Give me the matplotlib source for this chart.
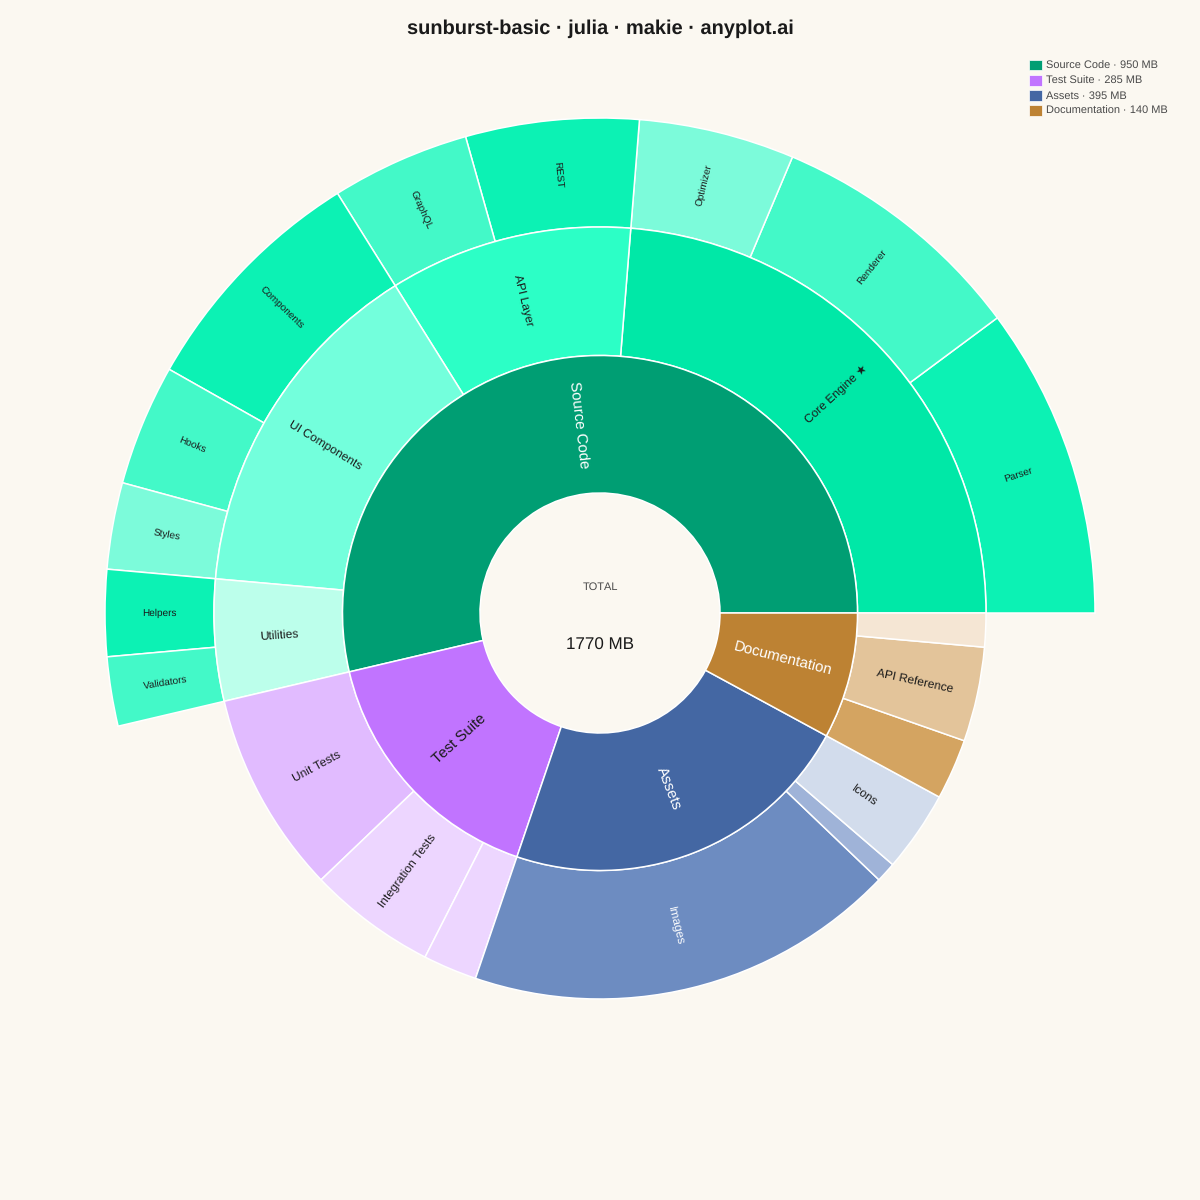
import matplotlib
matplotlib.use("Agg")
import matplotlib.pyplot as plt
from matplotlib.patches import Wedge, Patch
from matplotlib.transforms import Affine2D

BG = "#FBF8F1"
DARK = "#1A1A1A"
plt.rcParams["font.family"] = ["Liberation Sans", "DejaVu Sans"]
plt.rcParams["text.hinting"] = "no_hinting"
plt.rcParams["text.hinting_factor"] = 1

# Level 1
top_names = ["Source Code", "Test Suite", "Assets", "Documentation"]
top_values = [950, 285, 395, 140]
top_colors = ["#009E73", "#C174FF", "#4467A3", "#BD8233"]
top_text = ["white", DARK, "white", "white"]

# Level 2
mid_names = ["Core Engine ★", "API Layer", "UI Components", "Utilities",
             "Unit Tests", "Integration Tests", "",
             "Images", "", "Icons",
             "", "API Reference", ""]
mid_values = [420, 180, 260, 90,
              150, 95, 40,
              320, 15, 60,
              45, 70, 25]
mid_colors = ["#00E8A7", "#2CFFC6", "#73FFDC", "#BCFFEB",
              "#E1BBFF", "#EDD6FF", "#EDD6FF",
              "#6D8CC1", "#9FB3D8", "#D2DCEC",
              "#D4A461", "#E3C49A", "#F5E6D4"]
mid_text = [DARK, DARK, DARK, DARK,
            DARK, DARK, DARK,
            "white", DARK, DARK,
            DARK, DARK, DARK]

# Level 3 (only the Source Code branch goes this deep)
leaf_names = ["Parser", "Renderer", "Optimizer", "REST", "GraphQL",
              "Components", "Hooks", "Styles", "Helpers", "Validators"]
leaf_values = [180, 150, 90, 100, 80, 140, 70, 50, 50, 40]
leaf_colors = ["#0CF2B4", "#43F9C8", "#7CFBDA", "#0CF2B4", "#43F9C8",
               "#0CF2B4", "#43F9C8", "#7CFBDA", "#0CF2B4", "#43F9C8"]

TOTAL = sum(top_values)
RADII = [120, 257.5, 386, 495]

fig = plt.figure(figsize=(12, 12), dpi=100, facecolor=BG)
ax = fig.add_axes([0, 0, 1, 1])
ax.set_xlim(-600, 600)
ax.set_ylim(-587, 613)
ax.set_aspect("equal")
ax.axis("off")


def draw_ring(values, colors, names, text_colors, r0, r1, fontsize):
    start = 0.0
    rmid = (r0 + r1) / 2
    for v, c, n, tc in zip(values, colors, names, text_colors):
        sweep = v / TOTAL * 360
        ax.add_patch(Wedge((0, 0), r1, start, start + sweep, width=r1 - r0,
                           facecolor=c, edgecolor="white", linewidth=1.1))
        if n:
            mid = start + sweep / 2
            pt = Affine2D().rotate_deg(mid).transform((rmid, 0))
            rot = mid if (mid <= 90 or mid >= 270) else mid - 180
            if rot > 180:
                rot -= 360
            ax.text(pt[0], pt[1], n, rotation=rot, rotation_mode="anchor",
                    ha="center", va="center", color=tc, fontsize=fontsize)
        start += sweep


draw_ring(leaf_values, leaf_colors, leaf_names, [DARK] * len(leaf_names), RADII[2], RADII[3], 7.2)
draw_ring(mid_values, mid_colors, mid_names, mid_text, RADII[1], RADII[2], 8.9)
draw_ring(top_values, top_colors, top_names, top_text, RADII[0], RADII[1], 11.0)

ax.text(0, 26, "TOTAL", ha="center", va="center", fontsize=8.0, color="#4A4A4A")
ax.text(0, -32, f"{TOTAL} MB", ha="center", va="center", fontsize=12.4, color=DARK)

fig.text(0.5, 1 - 29 / 1200, "sunburst-basic · julia · makie · anyplot.ai",
         ha="center", va="center", fontsize=14.1, fontweight="bold", color=DARK)

handles = [Patch(facecolor=c, edgecolor="white", linewidth=0.5) for c in top_colors]
labels = [f"{n} · {v} MB" for n, v in zip(top_names, top_values)]
leg = fig.legend(handles, labels, loc="upper left", bbox_to_anchor=(1028.6 / 1200, 1 - 59.6 / 1200),
                 frameon=False, fontsize=7.8, labelcolor="#4A4A4A",
                 handlelength=1.2, handleheight=1.15, handletextpad=0.42,
                 labelspacing=0.36, borderpad=0, borderaxespad=0)

fig.savefig("out.png", dpi=100, facecolor=BG)
